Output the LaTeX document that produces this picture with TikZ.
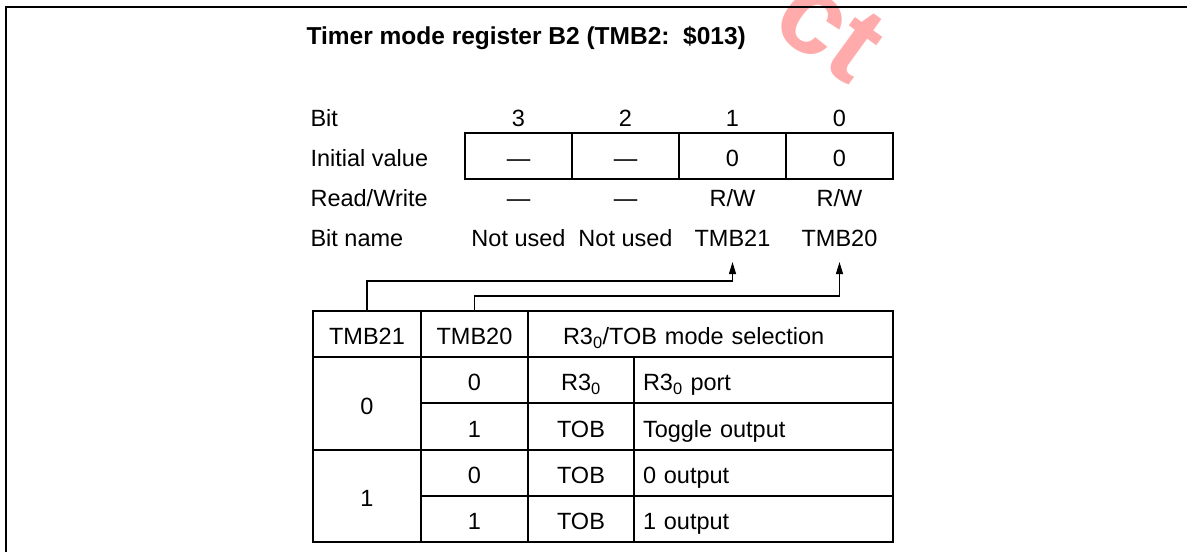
\documentclass[tikz,border=0pt]{standalone}
\usepackage{fontspec}
\setmainfont{Liberation Sans}
\usetikzlibrary{arrows.meta}

\tikzset{
  txt/.style={inner sep=0pt, anchor=base},
  rowlabel/.style={inner sep=0pt, anchor=base west},
  regcell/.style={rectangle, draw, minimum width=107, minimum height=46,
    inner sep=0pt, text height=21pt, text depth=0pt},
  tabcell/.style 2 args={rectangle, draw, minimum width=#1, minimum height=#2,
    inner sep=0pt, text height=21pt, text depth=0pt},
  desccell/.style={tabcell={259}{46}, text width=241, align=left},
  pointer/.style={-{Triangle[length=12pt,width=7pt]}},
  wmark/.style={text=red!33, font=\fontsize{112}{112}\selectfont\bfseries,
    inner sep=0pt, rotate=-36, anchor=base east}
}

\begin{document}
\begin{tikzpicture}[x=1pt, y=-1pt, line width=1.1pt,
    font=\fontsize{23.5}{28}\selectfont]
  \useasboundingbox (0,0) rectangle (1187,552);

  % watermark piece at the top
  \node[wmark] (wm) at (850,87) {ct};

  % frame
  \draw[line width=2pt] (6,552) -- (6,7) -- (1187,7);

  \node[rowlabel, font=\fontsize{24.5}{28}\selectfont\bfseries]
    (title) at (306,44) {Timer mode register B2 (TMB2:\ \ \$013)};

  \node[rowlabel] (lbit) at (310,126) {Bit};
  \node[rowlabel] (linit) at (310,166) {Initial value};
  \node[rowlabel] (lrw) at (310,206) {Read/Write};
  \node[rowlabel] (lname) at (310,246) {Bit name};

  % register
  \foreach \b/\x/\v/\r/\n in {3/518.5/\textemdash/\textemdash/Not used,
      2/625.5/\textemdash/\textemdash/Not used,
      1/732.5/0/R\slash W/TMB21,
      0/839.5/0/R\slash W/TMB20} {
    \node[txt] (num\b) at (\x,126) {\b};
    \node[regcell] (b\b) at (\x,156) {\v};
    \node[txt] (rw\b) at (\x,206) {\r};
    \node[txt] (nm\b) at (\x,246) {\n};
  }

  % selection table
  \node[tabcell={108}{46}] (h21) at (367,334) {TMB21};
  \node[tabcell={107}{46}] (h20) at (474.5,334) {TMB20};
  \node[tabcell={365}{46}, text width=295, align=left]
    (hsel) at (710.5,334) {R3\textsubscript{0}/TOB mode selection};

  \node[tabcell={108}{93}] (v0) at (367,403.5) {0};
  \node[tabcell={108}{92}] (v1) at (367,496) {1};

  \foreach \i/\y/\s/\p/\d in {1/380/0/R3\textsubscript{0}/R3\textsubscript{0} port,
      2/426.5/1/TOB/Toggle output,
      3/473/0/TOB/0 output,
      4/519/1/TOB/1 output} {
    \node[tabcell={107}{46}] (s\i) at (474.5,\y) {\s};
    \node[tabcell={106}{46}] (p\i) at (581,\y) {\p};
    \node[desccell] (d\i) at (763.5,\y) {\d};
  }

  % connectors
  \coordinate (k21) at (732.5,281);
  \coordinate (k20) at (839.5,296);
  \coordinate (t21) at (732.5,262);
  \coordinate (t20) at (839.5,262);
  \draw[pointer] (h21.north) |- (k21) -- (t21);
  \draw[pointer] (h20.north) |- (k20) -- (t20);
\end{tikzpicture}
\end{document}
